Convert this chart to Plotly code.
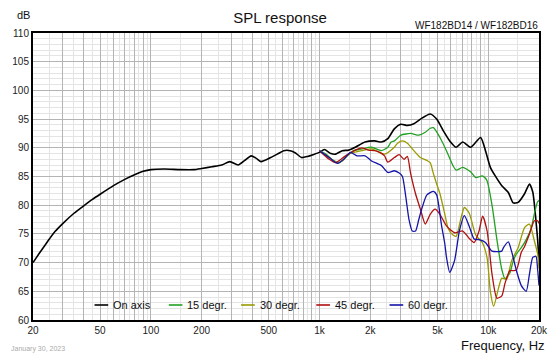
import plotly.graph_objects as go

# ---------------- data ----------------
freq_on = [20, 22, 23, 25, 27, 30, 35, 40, 45, 50, 60, 70, 80, 90, 100, 120, 150, 180, 200, 230,
           263, 294, 329, 360, 393, 420, 449, 513, 570, 613, 670, 720, 782, 850, 915, 998, 1067, 1167, 1247, 1364,
           1489, 1629, 1861, 2126, 2325, 2539, 2776, 3035, 3316, 3625, 3963, 4528, 4946, 5408, 5913, 6457, 7061, 7886, 9010, 9632,
           10294, 11006, 12035, 13159, 14065, 15036, 16422, 17556, 18366, 19187, 19630, 20000]
spl_on = [70.0, 71.8, 72.6, 74.1, 75.4, 76.8, 78.6, 79.9, 81.0, 81.9, 83.4, 84.5, 85.3, 85.9, 86.2, 86.3, 86.2, 86.2, 86.4, 86.7,
          87.0, 87.6, 87.0, 87.8, 88.6, 88.2, 87.6, 88.3, 89.0, 89.5, 89.5, 89.1, 88.3, 88.5, 88.8, 89.2, 89.7, 89.0, 88.9, 89.5,
          89.6, 90.1, 91.0, 91.2, 91.0, 91.6, 93.3, 94.1, 93.9, 94.2, 95.0, 95.9, 95.0, 93.0, 91.2, 90.1, 91.0, 90.1, 91.8, 89.5,
          86.6, 85.1, 83.4, 82.2, 80.4, 80.5, 82.0, 83.7, 82.3, 77.3, 74.0, 70.5]

freq_15 = [998, 1092, 1194, 1304, 1425, 1592, 1781, 2035, 2325, 2539, 2657, 2776, 3035, 3469, 3875, 4236, 4528, 4732, 5174, 5652,
           6179, 6457, 7061, 7886, 8430, 9218, 9632, 9851, 10532, 11258, 12035, 12575, 13440, 14065, 14697, 15710, 16795, 17957, 18764, 19630,
           20000]
spl_15 = [89.5, 88.9, 87.9, 87.4, 88.3, 89.5, 89.8, 90.1, 89.5, 90.1, 91.0, 91.2, 92.2, 92.5, 92.2, 92.7, 93.4, 93.5, 91.8, 89.5,
          86.9, 86.1, 86.6, 85.8, 84.8, 85.1, 84.7, 84.2, 80.0, 74.0, 68.8, 67.2, 68.2, 70.3, 71.5, 72.6, 74.0, 75.9, 78.5, 80.6,
          80.8]

freq_30 = [998, 1141, 1276, 1364, 1489, 1781, 2035, 2429, 2776, 2901, 3100, 3316, 3625, 3963, 4328, 4528, 4732, 4946, 5174, 5532,
           5780, 6179, 6457, 6902, 7221, 7720, 8430, 9218, 9851, 10294, 10773, 11517, 12035, 12862, 13749, 15036, 16422, 17556, 18764, 19630,
           20000]
spl_30 = [89.5, 88.3, 87.4, 87.7, 88.9, 89.5, 89.8, 88.9, 90.1, 90.8, 91.2, 90.8, 89.5, 88.3, 87.8, 87.4, 85.5, 83.7, 82.0, 78.4,
          76.0, 74.8, 74.6, 77.8, 79.6, 78.6, 74.8, 73.5, 70.8, 65.0, 62.4, 65.6, 67.3, 67.1, 70.3, 72.6, 76.1, 76.7, 73.8, 71.5,
          69.0]

freq_45 = [998, 1141, 1247, 1425, 1629, 1781, 1945, 2126, 2273, 2429, 2539, 2776, 2967, 3171, 3316, 3469, 3707, 3963, 4236, 4528,
           4841, 5174, 5652, 6320, 7061, 7720, 8251, 8823, 9260, 9851, 10532, 11258, 12035, 12575, 13440, 14065, 14697, 15710, 16422, 17556,
           18764, 19630, 20000]
spl_45 = [89.5, 88.0, 87.4, 88.6, 89.6, 90.0, 89.6, 89.5, 89.2, 88.6, 87.5, 88.3, 88.8, 88.0, 88.5, 85.5, 82.0, 79.3, 76.7, 78.4,
          79.3, 78.4, 76.4, 75.2, 75.5, 74.2, 73.5, 75.5, 78.1, 75.5, 68.0, 63.8, 64.2, 66.4, 68.6, 68.6, 68.7, 71.8, 72.8, 75.0,
          77.3, 77.3, 76.8]

freq_60 = [998, 1141, 1276, 1393, 1524, 1666, 1861, 2035, 2325, 2539, 2776, 2967, 3100, 3244, 3390, 3544, 3707, 3875, 4049, 4328,
           4732, 4946, 5286, 5532, 5652, 5913, 6320, 6756, 7221, 7720, 8251, 8823, 9632, 10532, 12035, 12309, 13159, 13749, 14697, 15710,
           16795, 17556, 18366, 19187, 19630, 20000]
spl_60 = [89.5, 88.3, 87.3, 88.0, 89.2, 88.6, 88.6, 87.7, 86.9, 85.7, 86.0, 85.6, 85.0, 81.5, 77.5, 75.5, 75.5, 77.5, 79.5, 81.8,
          82.4, 81.8, 76.5, 73.2, 71.0, 68.3, 70.4, 75.6, 78.2, 76.3, 74.1, 74.0, 73.5, 72.0, 72.0, 72.6, 73.6, 72.0, 68.6, 66.0,
          65.0, 68.0, 70.9, 71.1, 68.8, 66.0]

series_names = ["On axis", "15 degr.", "30 degr.", "45 degr.", "60 degr."]
series_colors = ["#000000", "#22a022", "#9a9a00", "#b01010", "#1414a8"]

x_major = [20, 30, 40, 50, 60, 70, 80, 90, 100, 200, 300, 400, 500, 600, 700, 800, 900,
           1000, 2000, 3000, 4000, 5000, 6000, 7000, 8000, 9000, 10000, 20000]
x_labels = {20: "20", 50: "50", 100: "100", 200: "200", 500: "500", 1000: "1k",
            2000: "2k", 5000: "5k", 10000: "10k", 20000: "20k"}
x_minor = [25, 35, 45, 55, 65, 75, 85, 95,
           150, 250, 350, 450, 550, 650, 750, 850, 950,
           1500, 2500, 3500, 4500, 5500, 6500, 7500, 8500, 9500, 15000]
y_ticks = [60, 65, 70, 75, 80, 85, 90, 95, 100, 105, 110]

# ---------------- figure ----------------
W, H = 560, 356
L, R, T, B = 30, 12, 33, 36
pw, ph = W - L - R, H - T - B


def px(x):
    return (x - L) / pw


def py(y):
    return (H - B - y) / ph


FONT = "Liberation Sans, Arial, sans-serif"

fig = go.Figure()
data = [(freq_on, spl_on), (freq_15, spl_15), (freq_30, spl_30), (freq_45, spl_45), (freq_60, spl_60)]
for i, ((f, s), name, col) in enumerate(zip(data, series_names, series_colors)):
    fig.add_trace(go.Scatter(
        x=f, y=s, mode="lines", name=name,
        line=dict(color=col, width=1.6 if i == 0 else 1.3, shape="spline", smoothing=0.6),
        showlegend=False, hoverinfo="x+y+name"))

fig.update_xaxes(
    type="log", range=[1.30103, 4.30103],
    tickmode="array", tickvals=x_major,
    ticktext=[x_labels.get(v, "") for v in x_major],
    showgrid=True, gridcolor="#b4b4b4", gridwidth=1,
    minor=dict(tickmode="array", tickvals=x_minor, showgrid=True, gridcolor="#e4e4e4", gridwidth=1, ticks=""),
    ticks="", showline=True, linecolor="#000", linewidth=2, mirror=True,
    tickfont=dict(family=FONT, size=10, color="#222"), zeroline=False)
fig.update_yaxes(
    range=[60, 110], tickmode="array", tickvals=y_ticks,
    showgrid=True, gridcolor="#b4b4b4", gridwidth=1,
    minor=dict(dtick=1, showgrid=True, gridcolor="#e4e4e4", gridwidth=1, ticks=""),
    ticks="", showline=True, linecolor="#000", linewidth=2, mirror=True,
    tickfont=dict(family=FONT, size=10, color="#222"), zeroline=False)

# legend (drawn inside plot, bottom)
shapes = [dict(type="rect", xref="paper", yref="paper", x0=px(85), x1=px(462), y0=py(292), y1=py(319),
               fillcolor="rgba(255,255,255,0.82)", line=dict(width=0), layer="between")]
annotations = []
legend_text_x = [110, 186, 260, 337, 412]
legend_y = 305
for name, col, tx in zip(series_names, series_colors, legend_text_x):
    shapes.append(dict(type="line", xref="paper", yref="paper", x0=px(tx - 17), x1=px(tx - 3),
                       y0=py(legend_y), y1=py(legend_y), line=dict(color=col, width=1.6), layer="above"))
    annotations.append(dict(text=name, xref="paper", yref="paper", x=px(tx), y=py(legend_y),
                            xanchor="left", yanchor="middle", showarrow=False,
                            font=dict(family=FONT, size=11, color="#111")))

annotations += [
    dict(text="dB", xref="paper", yref="paper", x=px(20), y=py(15.5), xanchor="center", yanchor="middle",
         showarrow=False, font=dict(family=FONT, size=11, color="#111")),
    dict(text="WF182BD14 / WF182BD16", xref="paper", yref="paper", x=px(549), y=py(26),
         xanchor="right", yanchor="middle", showarrow=False, font=dict(family=FONT, size=10, color="#111")),
    dict(text="Frequency, Hz", xref="paper", yref="paper", x=px(556), y=py(345),
         xanchor="right", yanchor="middle", showarrow=False, font=dict(family=FONT, size=13, color="#111")),
    dict(text="January 30, 2023", xref="paper", yref="paper", x=px(5), y=py(349),
         xanchor="left", yanchor="middle", showarrow=False, font=dict(family=FONT, size=7, color="#aaaaaa")),
]

fig.update_layout(
    width=W, height=H, autosize=False,
    margin=dict(l=L, r=R, t=T, b=B, pad=0),
    paper_bgcolor="white", plot_bgcolor="white",
    title=dict(text="SPL response", x=0.5, xanchor="center", y=1 - 17.5 / H, yanchor="middle",
               font=dict(family=FONT, size=15, color="#111")),
    shapes=shapes, annotations=annotations, showlegend=False,
)

fig.write_html("out.html", config={"displayModeBar": False},
               post_script="document.body.style.margin='0px';document.body.style.overflow='hidden';")
